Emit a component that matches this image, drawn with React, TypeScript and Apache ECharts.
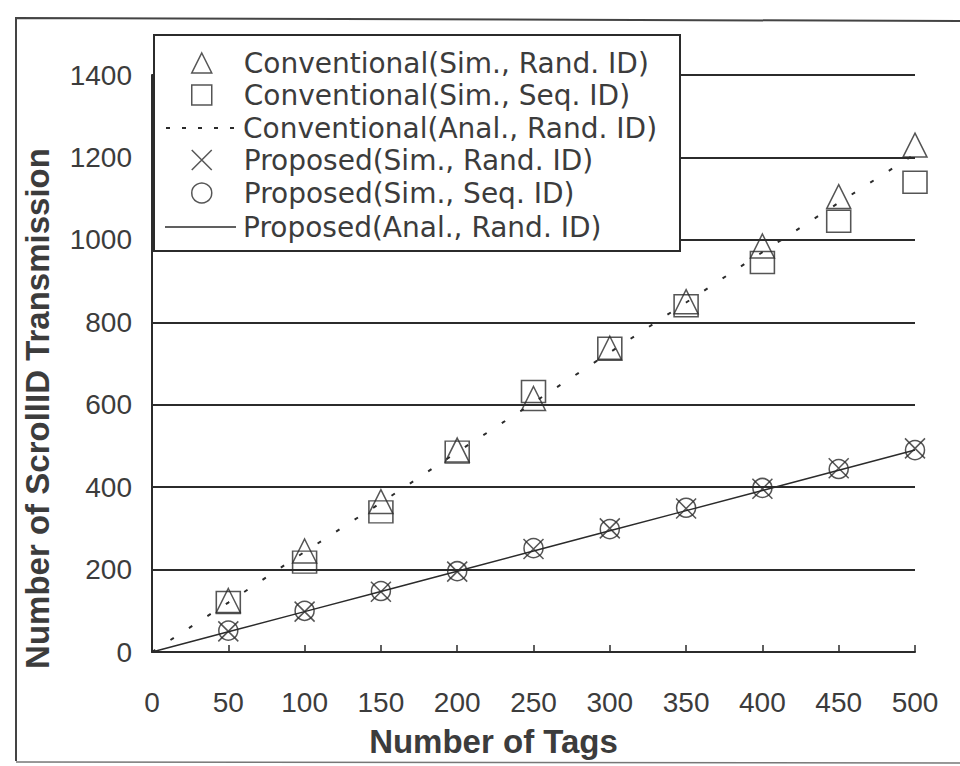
import React, { useEffect, useRef } from "react";
import * as echarts from "echarts";

const tags = [50, 100, 150, 200, 250, 300, 350, 400, 450, 500];
const analTags = [0, 50, 100, 150, 200, 250, 300, 350, 400, 450, 500];

const convSimRand = [125, 245, 365, 490, 615, 737, 850, 985, 1105, 1230];
const convSimSeq = [120, 218, 340, 485, 632, 737, 840, 945, 1045, 1140];
const convAnalRand = [0, 120, 243, 362, 485, 605, 727, 848, 970, 1090, 1208];
const propSimRand = [50, 98, 146, 195, 250, 300, 348, 396, 446, 494];
const propSimSeq = [52, 100, 148, 196, 252, 298, 350, 398, 444, 490];
const propAnalRand = [0, 49, 98, 147, 196, 245, 294, 343, 392, 441, 490];

const seriesNames = [
  "Conventional(Sim., Rand. ID)",
  "Conventional(Sim., Seq. ID)",
  "Conventional(Anal., Rand. ID)",
  "Proposed(Sim., Rand. ID)",
  "Proposed(Sim., Seq. ID)",
  "Proposed(Anal., Rand. ID)",
];

const xTitle = "Number of Tags";
const yTitle = "Number of ScrollID Transmission";

const INK = "#2b2b2b";
const TEXT = "#3c3c3c";
const X_MARK = "path://M0,0L20,20M20,0L0,20";

function pairs(xs: number[], ys: number[]) {
  return xs.map((x, i) => [x, ys[i]]);
}

export default function App() {
  const ref = useRef<HTMLDivElement>(null);

  useEffect(() => {
    if (!ref.current) return;
    const chart = echarts.init(ref.current, null, { renderer: "svg" });
    const markerStyle = {
      color: "rgba(0,0,0,0)",
      borderColor: INK,
      borderWidth: 1.5,
    };
    const rowCenters = [63, 95, 128, 160, 193, 227];
    const isLine = [false, false, true, false, false, true];
    const icons = ["triangle", "rect", "none", X_MARK, "circle", "none"];
    const legendText = {
      fontFamily: "DejaVu Sans",
      fontSize: 28,
      color: TEXT,
    };
    const legends = seriesNames.map((name, i) => {
      if (isLine[i]) {
        return {
          orient: "vertical",
          left: 166,
          top: rowCenters[i] - 14,
          padding: 0,
          itemWidth: 72,
          itemHeight: 20,
          z: 5,
          data: [{ name, icon: "none" }],
          textStyle: legendText,
        };
      }
      return {
        orient: "vertical",
        left: 191,
        top: rowCenters[i] - 14,
        padding: 0,
        itemWidth: 20,
        itemHeight: 20,
        z: 5,
        data: [{ name, icon: icons[i] }],
        textStyle: { ...legendText, padding: [0, 0, 0, 27] },
        itemStyle: { borderWidth: 1.5 },
      };
    });
    chart.setOption({
      animation: false,
      backgroundColor: "#ffffff",
      grid: { left: 152, right: 45, top: 75, bottom: 114, containLabel: false },
      legend: legends,
      xAxis: {
        type: "value",
        min: 0,
        max: 500,
        interval: 50,
        name: xTitle,
        nameLocation: "middle",
        nameGap: 73,
        nameTextStyle: {
          fontFamily: "Liberation Sans",
          fontWeight: "bold",
          fontSize: 33,
          color: TEXT,
          padding: [0, 80, 0, 0],
        },
        axisLine: { show: true, lineStyle: { color: INK, width: 2 } },
        axisTick: { show: true, inside: true, length: 7, lineStyle: { color: INK, width: 1.5 } },
        axisLabel: {
          margin: 36,
          fontFamily: "Liberation Sans",
          fontSize: 28,
          color: TEXT,
          formatter: (v: number) => String(v),
        },
        splitLine: { show: false },
      },
      yAxis: {
        type: "value",
        min: 0,
        max: 1400,
        interval: 200,
        name: yTitle,
        nameLocation: "middle",
        nameGap: 98,
        nameTextStyle: {
          fontFamily: "Liberation Sans",
          fontWeight: "bold",
          fontSize: 33,
          color: TEXT,
          padding: [0, 90, 0, 0],
        },
        axisLine: { show: true, lineStyle: { color: INK, width: 2 } },
        axisTick: { show: false },
        axisLabel: {
          margin: 20,
          fontFamily: "Liberation Sans",
          fontSize: 28,
          color: TEXT,
          formatter: (v: number) => String(v),
        },
        splitLine: { show: true, lineStyle: { color: INK, width: 2 } },
      },
      graphic: [
        {
          type: "rect",
          z: 3,
          shape: { x: 154, y: 35, width: 526, height: 216 },
          style: { fill: "#ffffff", stroke: INK, lineWidth: 2 },
        },
        {
          type: "line",
          z: 6,
          shape: { x1: 166, y1: 128, x2: 240, y2: 128 },
          style: { stroke: INK, lineWidth: 2, lineDash: [4, 12] },
        },
        {
          type: "line",
          z: 6,
          shape: { x1: 165, y1: 227, x2: 236, y2: 227 },
          style: { stroke: INK, lineWidth: 1.5 },
        },
        {
          type: "polyline",
          z: 1,
          shape: { points: [[16, 761], [16, 18], [960, 21]] },
          style: { fill: "none", stroke: "#444", lineWidth: 2 },
        },
        {
          type: "line",
          z: 1,
          shape: { x1: 16, y1: 762, x2: 960, y2: 763 },
          style: { stroke: "#777", lineWidth: 1.5 },
        },
      ],
      series: [
        {
          name: seriesNames[0],
          type: "scatter",
          symbol: "triangle",
          symbolSize: 24,
          symbolKeepAspect: true,
          itemStyle: markerStyle,
          data: pairs(tags, convSimRand),
          z: 3,
        },
        {
          name: seriesNames[1],
          type: "scatter",
          symbol: "rect",
          symbolSize: [24, 22],
          itemStyle: markerStyle,
          data: pairs(tags, convSimSeq),
          z: 3,
        },
        {
          name: seriesNames[2],
          type: "line",
          symbol: "none",
          showSymbol: false,
          lineStyle: { color: INK, width: 2, type: [4, 18] },
          itemStyle: { color: INK },
          data: pairs(analTags, convAnalRand),
          z: 2,
        },
        {
          name: seriesNames[3],
          type: "scatter",
          symbol: X_MARK,
          symbolSize: 20,
          itemStyle: markerStyle,
          data: pairs(tags, propSimRand),
          z: 3,
        },
        {
          name: seriesNames[4],
          type: "scatter",
          symbol: "circle",
          symbolSize: 19,
          itemStyle: markerStyle,
          data: pairs(tags, propSimSeq),
          z: 3,
        },
        {
          name: seriesNames[5],
          type: "line",
          symbol: "none",
          showSymbol: false,
          lineStyle: { color: INK, width: 1.5, type: "solid" },
          itemStyle: { color: INK },
          data: pairs(analTags, propAnalRand),
          z: 2,
        },
      ],
    });
    return () => chart.dispose();
  }, []);

  return <div ref={ref} style={{ width: 960, height: 766, position: "absolute", left: 0, top: 0 }} />;
}
